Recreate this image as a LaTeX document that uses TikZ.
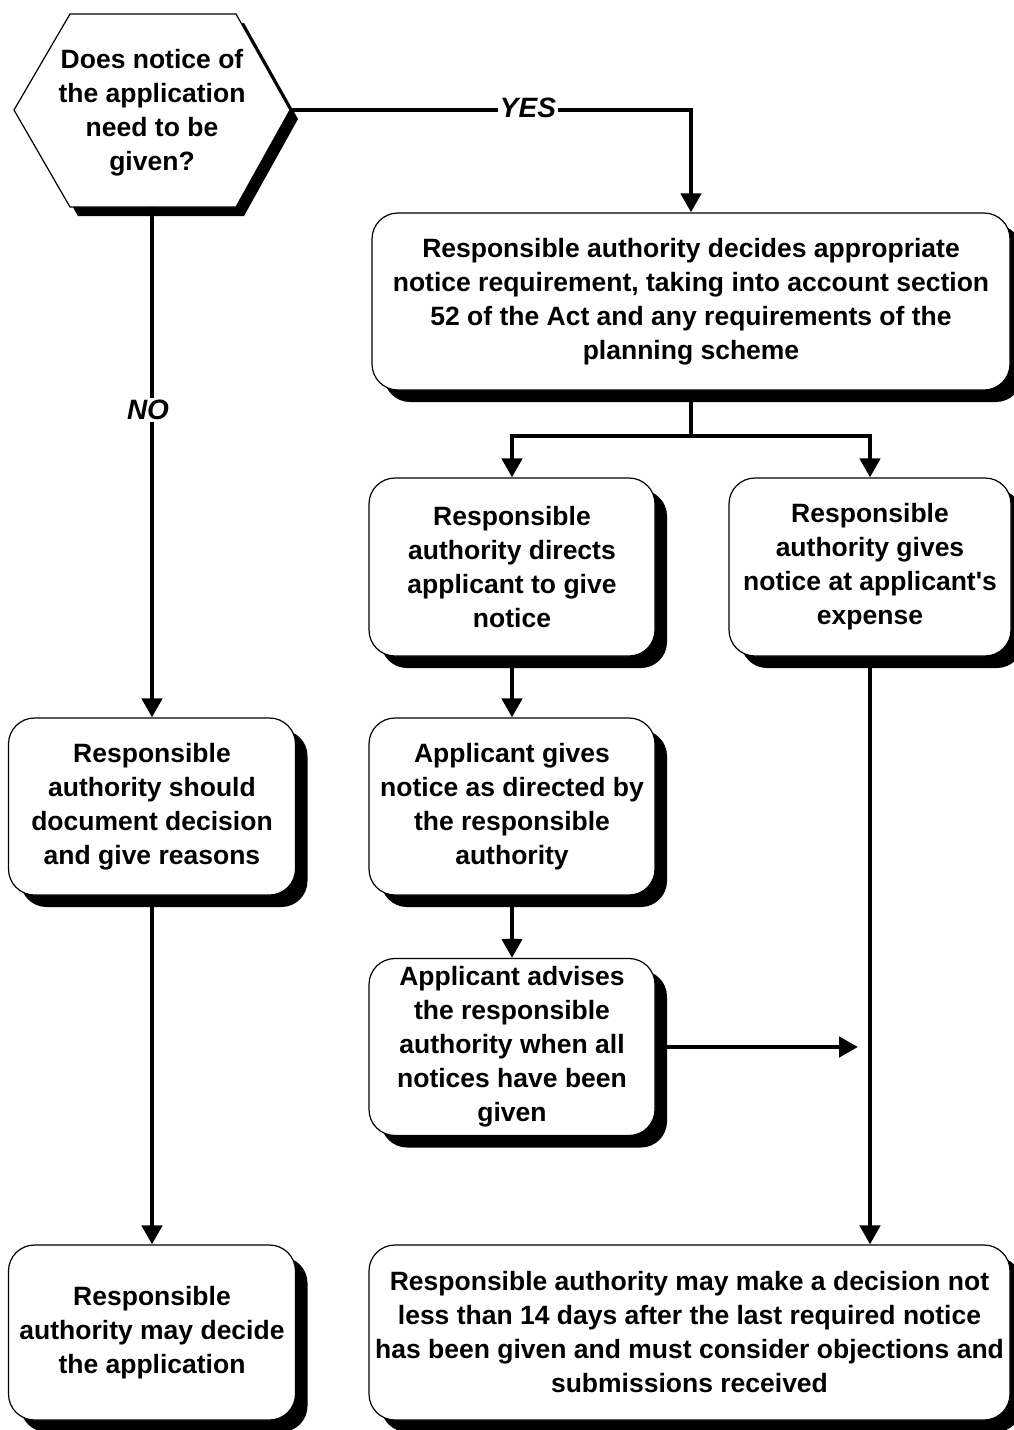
\documentclass[tikz,border=0pt]{standalone}
\usepackage{fontspec}
\setmainfont{Liberation Sans}
\usetikzlibrary{arrows.meta,shadows}
\begin{document}
\begin{tikzpicture}[x=1pt,y=-1pt,
  txt/.style={font=\bfseries\fontsize{26.5}{34}\selectfont, align=center},
  box/.style={txt, draw, line width=1.2pt, fill=white, rounded corners=26pt, inner sep=0pt,
    drop shadow={shadow xshift=12pt, shadow yshift=-12pt, opacity=1, fill=black}},
  conn/.style={line width=4.5pt},
  arr/.style={conn, -{Triangle[length=19pt,width=20pt]}},
  lbl/.style={font=\bfseries\itshape\fontsize{28}{30}\selectfont, fill=white, inner sep=2pt}
]
\useasboundingbox (0,0) rectangle (1013,1430);

% hexagon decision
\fill[black] (78,23) -- (244,23) -- (298,119) -- (244,216) -- (78,216) -- (22,119) -- cycle;
\draw[fill=white, line width=1.2pt] (70,14) -- (236,14) -- (290,110) -- (236,207) -- (70,207) -- (14,110) -- cycle;
\node[txt] (q) at (152,113) {Does notice of\\the application\\need to be\\given?};
\coordinate (hexR) at (290,110);
\coordinate (hexB) at (152,207);

% boxes
\node[box, minimum width=638pt, minimum height=177pt] (top) at (691,301.5)
  {Responsible authority decides appropriate\\notice requirement, taking into account section\\52 of the Act and any requirements of the\\planning scheme};
\node[box, minimum width=286pt, minimum height=178pt] (dirA) at (512,567)
  {Responsible\\authority directs\\applicant to give\\notice};
\node[box, minimum width=282pt, minimum height=178pt] (gives) at (870,567)
  {Responsible\\authority gives\\notice at applicant\textquotesingle s\\expense};
\node[box, minimum width=286pt, minimum height=177pt] (appg) at (512,806.5)
  {Applicant gives\\notice as directed by\\the responsible\\authority};
\node[box, minimum width=286pt, minimum height=177pt] (adv) at (512,1047)
  {Applicant advises\\the responsible\\authority when all\\notices have been\\given};
\node[box, minimum width=641pt, minimum height=175pt] (final) at (689.5,1332.5)
  {Responsible authority may make a decision not\\less than 14 days after the last required notice\\has been given and must consider objections and\\submissions received};
\node[box, minimum width=287pt, minimum height=177pt] (doc) at (152,806.5)
  {Responsible\\authority should\\document decision\\and give reasons};
\node[box, minimum width=287pt, minimum height=175pt] (may) at (152,1332.5)
  {Responsible\\authority may decide\\the application};

% connectors
\draw[arr] (hexR) -| (top.north);
\node[lbl] (yes) at (528,108) {YES};
\draw[arr] (hexB) -- (doc.north);
\node[lbl] (no) at (148,410) {NO};
\coordinate (split) at (691,436);
\draw[conn] (top.south) -- (split);
\draw[arr] (split) -| (dirA.north);
\draw[arr] (split) -| (gives.north);
\draw[arr] (dirA.south) -- (appg.north);
\draw[arr] (appg.south) -- (adv.north);
\coordinate (advEnd) at (858,1047);
\draw[arr] (adv.east) -- (advEnd);
\draw[arr] (gives.south) -- (gives.south |- final.north);
\draw[arr] (doc.south) -- (may.north);
\end{tikzpicture}
\end{document}
